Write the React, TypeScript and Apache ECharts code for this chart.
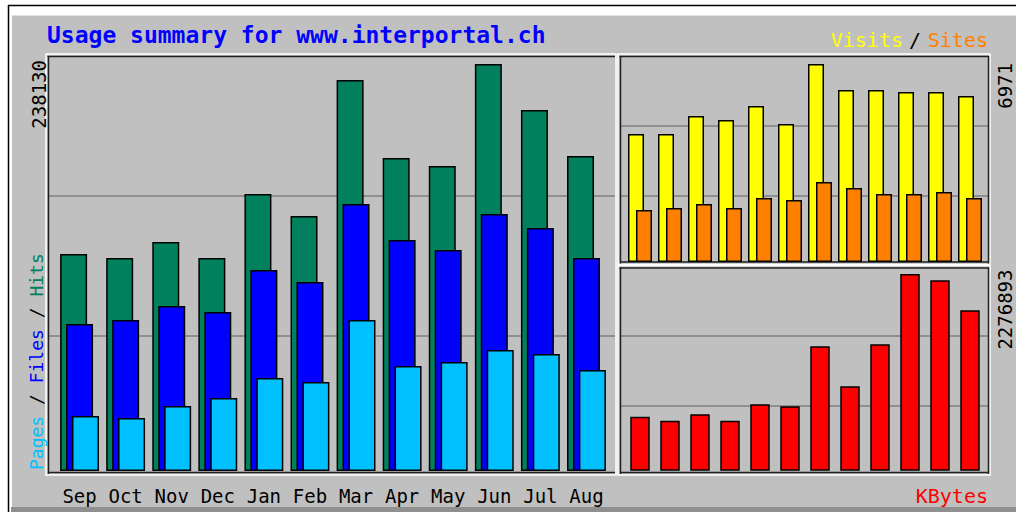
import React, { useEffect, useRef } from "react";
import * as echarts from "echarts";

const months = ["Sep", "Oct", "Nov", "Dec", "Jan", "Feb", "Mar", "Apr", "May", "Jun", "Jul", "Aug"];
const hits = [126960, 124620, 133980, 124620, 162070, 149190, 228770, 183130, 178450, 238130, 211220, 184300];
const files = [86010, 88350, 96540, 93030, 117600, 110580, 156220, 135150, 129300, 150360, 142180, 124620];
const pages = [32180, 31010, 38030, 42710, 54410, 52080, 88350, 61430, 63770, 70800, 68460, 59090];
const visits = [4507, 4507, 5140, 4999, 5492, 4859, 6971, 6056, 6056, 5985, 5985, 5844];
const sites = [1831, 1901, 2042, 1901, 2253, 2183, 2817, 2605, 2394, 2394, 2464, 2253];
const kbytes = [625060, 578770, 652840, 578770, 768630, 745480, 1439960, 976990, 1463110, 2276893, 2203980, 1856700];

const titleText = "Usage summary for www.interportal.ch";

const C = {
  hits: "#00805C",
  files: "#0000FF",
  pages: "#00C0FF",
  visits: "#FFFF00",
  sites: "#FF8000",
  kbytes: "#FF0000",
  bg: "#C0C0C0",
  grid: "#808080",
  dark: "#202020",
};

const MONO = '"DejaVu Sans Mono", "Liberation Mono", monospace';

function line(x1: number, y1: number, x2: number, y2: number, stroke: string, lw = 1.5) {
  return { type: "line", shape: { x1, y1, x2, y2 }, style: { stroke, lineWidth: lw }, silent: true };
}

function panel(x1: number, y1: number, x2: number, y2: number, rightDark: boolean) {
  const els: any[] = [
    { type: "rect", shape: { x: x1, y: y1, width: x2 - x1, height: y2 - y1 }, style: { fill: "none", stroke: "#ffffff", lineWidth: 1.5 }, silent: true },
    line(x1 + 1.5, y1 + 2.5, x2 - 1, y1 + 2.5, C.dark),
    line(x1 + 2.5, y1 + 2, x1 + 2.5, y2 - 1, C.dark),
    line(x1 + 2, y2 - 2.5, x2 - 1, y2 - 2.5, C.dark),
  ];
  if (rightDark) els.push(line(x2 - 1.5, y1 + 2, x2 - 1.5, y2 - 1, C.dark));
  return els;
}

function vtext(x: number, y: number, text: string, align: string, size: number, fill = "#000") {
  return {
    type: "text",
    x,
    y,
    rotation: Math.PI / 2,
    silent: true,
    style: { text, fill, font: `${size}px ${MONO}`, align, verticalAlign: "middle" },
  };
}

export default function App() {
  const ref = useRef<HTMLDivElement>(null);

  useEffect(() => {
    if (!ref.current) return;
    const chart = echarts.init(ref.current, null, { renderer: "svg" });
    const hitsMax = Math.max(...hits);
    const visitsMax = Math.max(...visits);
    const kbMax = Math.max(...kbytes);
    const barStyle = (color: string) => ({ color, borderColor: "#000", borderWidth: 1.5 });

    const graphic: any[] = [
      line(8, 5.5, 1016, 5.5, "#000"),
      line(8.5, 5, 8.5, 512, "#000"),
      { type: "rect", shape: { x: 12, y: 15.5, width: 1004, height: 492 }, style: { fill: C.bg }, silent: true },
      { type: "rect", shape: { x: 11, y: 507, width: 1005, height: 5 }, style: { fill: "#8f8f8f" }, silent: true },
      // gridlines
      line(49, 196, 615, 196, C.grid),
      line(49, 336, 615, 336, C.grid),
      line(620, 126, 988, 126, C.grid),
      line(620, 196, 988, 196, C.grid),
      line(620, 336, 988, 336, C.grid),
      line(620, 406, 988, 406, C.grid),
      ...panel(46, 54, 616, 475, false),
      ...panel(618, 54, 990, 264.5, true),
      ...panel(618, 265.5, 990, 475, true),
      {
        type: "text",
        x: 47,
        y: 35,
        silent: true,
        style: { text: titleText, fill: "#0000FF", font: `bold 23px ${MONO}`, align: "left", verticalAlign: "middle" },
      },
      { type: "text", x: 903, y: 40, silent: true, style: { text: "Visits", fill: C.visits, font: `20px ${MONO}`, align: "right", verticalAlign: "middle" } },
      { type: "text", x: 915, y: 40, silent: true, style: { text: "/", fill: "#000", font: `20px ${MONO}`, align: "center", verticalAlign: "middle" } },
      { type: "text", x: 988, y: 40, silent: true, style: { text: "Sites", fill: C.sites, font: `20px ${MONO}`, align: "right", verticalAlign: "middle" } },
      { type: "text", x: 988, y: 496, silent: true, style: { text: "KBytes", fill: C.kbytes, font: `20px ${MONO}`, align: "right", verticalAlign: "middle" } },
      vtext(38.5, 60, String(hitsMax), "right", 19),
      vtext(1004.5, 63, String(visitsMax), "right", 19),
      vtext(1004.5, 269.5, String(kbMax), "right", 19),
      {
        type: "text",
        x: 36.7,
        y: 470,
        rotation: Math.PI / 2,
        silent: true,
        style: {
          text: "{p|Pages} / {f|Files} / {h|Hits}",
          fill: "#000",
          font: `18px ${MONO}`,
          align: "left",
          verticalAlign: "middle",
          rich: {
            p: { fill: C.pages, fontFamily: MONO, fontSize: 18 },
            f: { fill: C.files, fontFamily: MONO, fontSize: 18 },
            h: { fill: C.hits, fontFamily: MONO, fontSize: 18 },
          },
        },
      },
    ];

    chart.setOption({
      animation: false,
      backgroundColor: "#ffffff",
      graphic,
      grid: [
        { left: 56.5, top: 64, width: 553, height: 407 },
        { left: 625, top: 64, width: 360, height: 198 },
        { left: 625, top: 274, width: 360, height: 196.7 },
      ],
      xAxis: [
        {
          type: "category",
          gridIndex: 0,
          data: months,
          axisLine: { show: false },
          axisTick: { show: false },
          splitLine: { show: false },
          axisLabel: { margin: 15, fontFamily: MONO, fontSize: 19, color: "#000" },
        },
        { type: "category", gridIndex: 1, data: months, show: false },
        { type: "category", gridIndex: 2, data: months, show: false },
      ],
      yAxis: [
        { type: "value", gridIndex: 0, min: 0, max: hitsMax, show: false, splitLine: { show: false } },
        { type: "value", gridIndex: 1, min: 0, max: visitsMax, show: false, splitLine: { show: false } },
        { type: "value", gridIndex: 2, min: 0, max: kbMax, show: false, splitLine: { show: false } },
      ],
      series: [
        { name: "Hits", type: "bar", xAxisIndex: 0, yAxisIndex: 0, data: hits, barWidth: 27, barGap: "-78%", itemStyle: barStyle(C.hits) },
        { name: "Files", type: "bar", xAxisIndex: 0, yAxisIndex: 0, data: files, barWidth: 27, barGap: "-78%", itemStyle: barStyle(C.files) },
        { name: "Pages", type: "bar", xAxisIndex: 0, yAxisIndex: 0, data: pages, barWidth: 27, barGap: "-78%", itemStyle: barStyle(C.pages) },
        { name: "Visits", type: "bar", xAxisIndex: 1, yAxisIndex: 1, data: visits, barWidth: 16, barGap: "-50%", itemStyle: barStyle(C.visits) },
        { name: "Sites", type: "bar", xAxisIndex: 1, yAxisIndex: 1, data: sites, barWidth: 16, barGap: "-50%", itemStyle: barStyle(C.sites) },
        { name: "KBytes", type: "bar", xAxisIndex: 2, yAxisIndex: 2, data: kbytes, barWidth: 19.5, itemStyle: barStyle(C.kbytes) },
      ],
    });

    return () => chart.dispose();
  }, []);

  return <div ref={ref} style={{ position: "fixed", left: 0, top: 0, width: 1016, height: 512 }} />;
}
